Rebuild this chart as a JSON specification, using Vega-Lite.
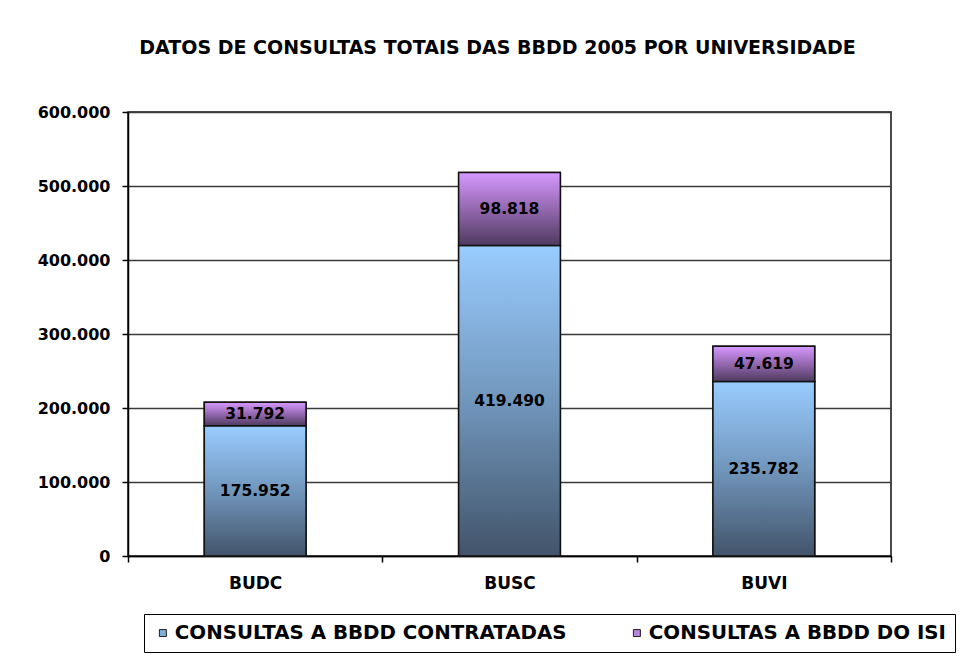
{
  "$schema": "https://vega.github.io/schema/vega-lite/v6.json",
  "width": 763,
  "height": 444,
  "autosize": {"type": "none"},
  "padding": {"left": 128, "top": 112, "right": 83, "bottom": 105},
  "background": "white",
  "title": {
    "text": "DATOS DE CONSULTAS TOTAIS DAS BBDD 2005 POR UNIVERSIDADE",
    "anchor": "middle",
    "font": "DejaVu Sans",
    "fontSize": 19,
    "fontWeight": "bold",
    "color": "#000000",
    "baseline": "bottom",
    "offset": 27,
    "dx": -12
  },
  "data": {
    "values": [
      {"univ": "BUDC", "serie": "CONSULTAS A BBDD CONTRATADAS", "value": 175952},
      {"univ": "BUDC", "serie": "CONSULTAS A BBDD DO ISI", "value": 31792},
      {"univ": "BUSC", "serie": "CONSULTAS A BBDD CONTRATADAS", "value": 419490},
      {"univ": "BUSC", "serie": "CONSULTAS A BBDD DO ISI", "value": 98818},
      {"univ": "BUVI", "serie": "CONSULTAS A BBDD CONTRATADAS", "value": 235782},
      {"univ": "BUVI", "serie": "CONSULTAS A BBDD DO ISI", "value": 47619}
    ]
  },
  "transform": [
    {"stack": "value", "groupby": ["univ"], "sort": [{"field": "serie", "order": "ascending"}], "as": ["y0", "y1"]},
    {"calculate": "(datum.y0 + datum.y1) / 2", "as": "ymid"},
    {"calculate": "replace(format(datum.value, ','), ',', '.')", "as": "lab"}
  ],
  "encoding": {
    "x": {
      "field": "univ",
      "type": "nominal",
      "scale": {"paddingInner": 0, "paddingOuter": 0},
      "axis": {
        "title": null,
        "labelAngle": 0,
        "labelFont": "DejaVu Sans",
        "labelFontSize": 17,
        "labelFontWeight": "bold",
        "labelColor": "#000000",
        "labelPadding": 13,
        "tickBand": "extent",
        "tickSize": 6,
        "tickColor": "#000000",
        "tickWidth": 1.5,
        "domainColor": "#000000",
        "domainWidth": 1.5,
        "grid": false
      }
    },
    "y": {
      "field": "y1",
      "type": "quantitative",
      "scale": {"domain": [0, 600000], "nice": false},
      "axis": {
        "title": null,
        "values": [0, 100000, 200000, 300000, 400000, 500000, 600000],
        "format": ",d",
        "labelExpr": "replace(datum.label, ',', '.')",
        "labelFont": "DejaVu Sans",
        "labelFontSize": 16,
        "labelFontWeight": "bold",
        "labelColor": "#000000",
        "labelPadding": 12,
        "tickSize": 6,
        "tickColor": "#000000",
        "tickWidth": 1.5,
        "domainColor": "#000000",
        "domainWidth": 1.5,
        "grid": true,
        "gridColor": "#3a3a3a",
        "gridWidth": 1.5
      }
    },
    "y2": {"field": "y0"}
  },
  "layer": [
    {
      "mark": {"type": "bar", "width": {"band": 0.4}, "stroke": "#111111", "strokeWidth": 1.5},
      "encoding": {
        "color": {
          "field": "serie",
          "type": "nominal",
          "scale": {
            "domain": ["CONSULTAS A BBDD CONTRATADAS", "CONSULTAS A BBDD DO ISI"],
            "range": ["#7FAEDC", "#B583DB"]
          },
          "legend": {
            "title": null,
            "orient": "none",
            "legendX": 16,
            "legendY": 502,
            "direction": "horizontal",
            "symbolType": "square",
            "symbolSize": 49,
            "symbolStrokeColor": "#222222",
            "symbolStrokeWidth": 1,
            "labelFont": "DejaVu Sans",
            "labelFontSize": 19.8,
            "labelFontWeight": "bold",
            "labelColor": "#000000",
            "labelOffset": 2,
            "labelLimit": 600,
            "columnPadding": 60,
            "padding": 9,
            "strokeColor": "#000000",
            "fillColor": "#ffffff"
          }
        }
      }
    },
    {
      "mark": {"type": "bar", "width": {"band": 0.4}, "stroke": "#111111", "strokeWidth": 1.5},
      "encoding": {
        "fill": {
          "condition": {
            "test": "datum.serie === 'CONSULTAS A BBDD CONTRATADAS'",
            "value": {"gradient": "linear", "x1": 0, "y1": 0, "x2": 0, "y2": 1, "stops": [{"offset": 0, "color": "#99CCFF"}, {"offset": 0.5, "color": "#7196BC"}, {"offset": 1, "color": "#42546A"}]}
          },
          "value": {"gradient": "linear", "x1": 0, "y1": 0, "x2": 0, "y2": 1, "stops": [{"offset": 0, "color": "#D699FF"}, {"offset": 0.5, "color": "#9468B0"}, {"offset": 1, "color": "#4E3A5E"}]}
        }
      }
    },
    {
      "mark": {"type": "text", "font": "DejaVu Sans", "fontSize": 15.5, "fontWeight": "bold", "color": "#000000", "baseline": "middle"},
      "encoding": {
        "y": {"field": "ymid", "type": "quantitative"},
        "y2": null,
        "text": {"field": "lab"}
      }
    }
  ],
  "config": {
    "view": {"stroke": "#111111", "strokeWidth": 1.5}
  }
}
